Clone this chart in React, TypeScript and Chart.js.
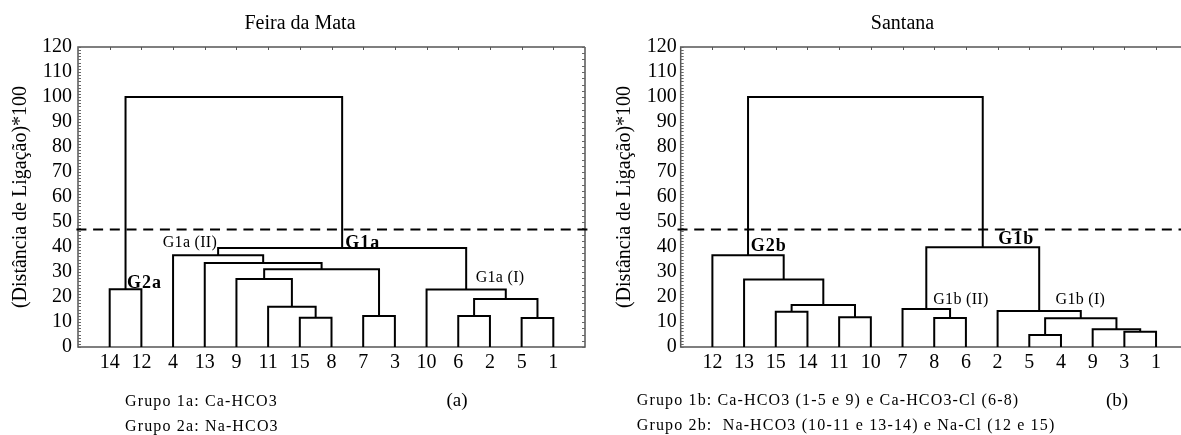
import React, { useEffect, useRef } from "react";
import { Chart, registerables } from "chart.js";

Chart.register(...registerables);

const FONT = "'Liberation Serif', 'Times New Roman', Times, serif";
Chart.defaults.font.family = FONT;
Chart.defaults.color = "#000";

// ---------- DATA ----------
// y axis
const yMin = 0;
const yMax = 120;
const yStep = 10;
const yAxisTitle = "(Distância de Ligação)*100";

// Panel (a) Feira da Mata — leaf order along x axis
const leavesA = ["14", "12", "4", "13", "9", "11", "15", "8", "7", "3", "10", "6", "2", "5", "1"];
// linkage rows: [child a, child b, linkage distance*100]; children < 15 are leaf positions, >= 15 earlier rows
const mergesA: [number, number, number][] = [
  [6, 7, 11.7],
  [5, 15, 16.1],
  [4, 16, 27.2],
  [8, 9, 12.4],
  [17, 18, 31.1],
  [3, 19, 33.6],
  [2, 20, 36.7],
  [11, 12, 12.4],
  [13, 14, 11.6],
  [22, 23, 19.2],
  [10, 24, 23.0],
  [21, 25, 39.6],
  [0, 1, 23.1],
  [27, 26, 100],
];
const cutA = 47;

// Panel (b) Santana
const leavesB = ["12", "13", "15", "14", "11", "10", "7", "8", "6", "2", "5", "4", "9", "3", "1"];
const mergesB: [number, number, number][] = [
  [2, 3, 14.1],
  [4, 5, 11.9],
  [15, 16, 16.8],
  [1, 17, 27.0],
  [0, 18, 36.7],
  [7, 8, 11.6],
  [6, 20, 15.2],
  [10, 11, 4.8],
  [13, 14, 6.1],
  [12, 23, 7.1],
  [22, 24, 11.5],
  [9, 25, 14.4],
  [21, 26, 39.9],
  [19, 27, 100],
];
const cutB = 47;

// ---------- LAYOUT / STYLE ----------
type Note = { text: string; x: number; y: number; size: number; bold?: boolean; align: CanvasTextAlign; spacing?: number };

type PanelSpec = {
  leaves: string[];
  merges: [number, number, number][];
  cut: number;
  xMax: number;
  yAxisWidth: number;
  padRight: number;
  yTickPad: number;
  yTitlePad: number;
  rightBorder: boolean;
  cutFrom: number;
  cutTo: number;
  inPlot: Note[]; // data-coordinate positions
  onCanvas: Note[]; // canvas pixel positions
};

const PLOT_TOP = 47;
const X_AXIS_H = 88;

const specA: PanelSpec = {
  leaves: leavesA,
  merges: mergesA,
  cut: cutA,
  xMax: 16,
  yAxisWidth: 78,
  padRight: 15,
  yTickPad: 6,
  yTitlePad: 9,
  rightBorder: true,
  cutFrom: -0.05,
  cutTo: 16.1,
  inPlot: [
    { text: "G2a", x: 1.55, y: 25.6, size: 18, bold: true, align: "left", spacing: 1 },
    { text: "G1a (II)", x: 4.39, y: 41.6, size: 16, align: "right", spacing: 0.3 },
    { text: "G1a", x: 8.43, y: 41.6, size: 18, bold: true, align: "left", spacing: 1 },
    { text: "G1a (I)", x: 12.55, y: 27.6, size: 16, align: "left", spacing: 0.3 },
  ],
  onCanvas: [
    { text: "Feira da Mata", x: 300, y: 24, size: 20, align: "center" },
    { text: "Grupo 1a: Ca-HCO3", x: 125, y: 402, size: 16, align: "left", spacing: 1.15 },
    { text: "Grupo 2a: Na-HCO3", x: 125, y: 427, size: 16, align: "left", spacing: 1.15 },
    { text: "(a)", x: 457, y: 401, size: 19, align: "center" },
  ],
};

const specB: PanelSpec = {
  leaves: leavesB,
  merges: mergesB,
  cut: cutB,
  xMax: (581 - 80.7) / 31.69,
  yAxisWidth: 80.7,
  padRight: 0,
  yTickPad: 4,
  yTitlePad: 13,
  rightBorder: false,
  cutFrom: -0.1,
  cutTo: (581 - 80.7) / 31.69,
  inPlot: [
    { text: "G2b", x: 2.21, y: 40.3, size: 18, bold: true, align: "left", spacing: 1 },
    { text: "G1b", x: 10.02, y: 43.0, size: 18, bold: true, align: "left", spacing: 1 },
    { text: "G1b (II)", x: 7.97, y: 18.7, size: 16, align: "left", spacing: 0.3 },
    { text: "G1b (I)", x: 11.83, y: 19.0, size: 16, align: "left", spacing: 0.3 },
  ],
  onCanvas: [
    { text: "Santana", x: 302.5, y: 24, size: 20, align: "center" },
    { text: "Grupo 1b: Ca-HCO3 (1-5 e 9) e Ca-HCO3-Cl (6-8)", x: 36.7, y: 401, size: 16, align: "left", spacing: 1.15 },
    { text: "Grupo 2b:  Na-HCO3 (10-11 e 13-14) e Na-Cl (12 e 15)", x: 36.7, y: 426, size: 16, align: "left", spacing: 1.15 },
    { text: "(b)", x: 517, y: 401, size: 19, align: "center" },
  ],
};

// ---------- HELPERS ----------
function buildSegments(leaves: string[], merges: [number, number, number][]) {
  const xs = leaves.map((_, i) => i + 1);
  const hs = leaves.map(() => 0);
  const segs: { x: number; y: number }[][] = [];
  merges.forEach(([a, b, h]) => {
    const xa = xs[a];
    const xb = xs[b];
    const lo = xa <= xb ? [xa, hs[a], xb, hs[b]] : [xb, hs[b], xa, hs[a]];
    segs.push([
      { x: lo[0], y: lo[1] },
      { x: lo[0], y: h },
      { x: lo[2], y: h },
      { x: lo[2], y: lo[3] },
    ]);
    xs.push((xa + xb) / 2);
    hs.push(h);
  });
  return segs;
}

function drawNote(ctx: CanvasRenderingContext2D, n: Note, px: number, py: number) {
  ctx.save();
  ctx.font = `${n.bold ? "bold " : ""}${n.size}px ${FONT}`;
  ctx.fillStyle = "#000";
  ctx.textAlign = n.align;
  ctx.textBaseline = "middle";
  (ctx as any).letterSpacing = `${n.spacing ?? 0}px`;
  ctx.fillText(n.text, px, py);
  ctx.restore();
}

function framePlugin(p: PanelSpec) {
  return {
    id: "frame",
    beforeDatasetsDraw(chart: any) {
      const { ctx, chartArea } = chart;
      const { left, right, top, bottom } = chartArea;
      const xs = chart.scales.x;
      const ys = chart.scales.y;
      ctx.save();
      ctx.strokeStyle = "#555";
      ctx.lineWidth = 1.5;
      ctx.beginPath();
      ctx.moveTo(right, top);
      ctx.lineTo(left, top);
      ctx.lineTo(left, bottom);
      ctx.lineTo(right, bottom);
      if (p.rightBorder) ctx.lineTo(right, top);
      ctx.stroke();
      // top ticks at leaf positions
      ctx.lineWidth = 1;
      ctx.beginPath();
      p.leaves.forEach((_, i) => {
        const px = Math.round(xs.getPixelForValue(i + 1)) + 0.5;
        ctx.moveTo(px, top);
        ctx.lineTo(px, top + 3);
      });
      ctx.stroke();
      // minor ticks on the left axis
      ctx.strokeStyle = "#666";
      ctx.beginPath();
      for (let v = yMin; v <= yMax; v += 1.25) {
        const py = Math.round(ys.getPixelForValue(v)) + 0.5;
        ctx.moveTo(left, py);
        ctx.lineTo(left + 3, py);
      }
      if (p.rightBorder) {
        for (let v = yMin; v <= yMax; v += 2.5) {
          const py = Math.round(ys.getPixelForValue(v)) + 0.5;
          ctx.moveTo(right, py);
          ctx.lineTo(right - 3, py);
        }
      }
      ctx.stroke();
      ctx.restore();
    },
    afterDraw(chart: any) {
      const { ctx } = chart;
      const xs = chart.scales.x;
      const ys = chart.scales.y;
      p.inPlot.forEach((n) => drawNote(ctx, n, xs.getPixelForValue(n.x), ys.getPixelForValue(n.y)));
      p.onCanvas.forEach((n) => drawNote(ctx, n, n.x, n.y));
    },
  };
}

function buildConfig(p: PanelSpec): any {
  const segs = buildSegments(p.leaves, p.merges);
  const datasets: any[] = segs.map((seg) => ({
    data: seg,
    borderColor: "#000",
    borderWidth: 2,
    pointRadius: 0,
    fill: false,
    tension: 0,
    borderJoinStyle: "miter",
    clip: false,
  }));
  datasets.push({
    data: [
      { x: p.cutFrom, y: p.cut },
      { x: p.cutTo, y: p.cut },
    ],
    borderColor: "#000",
    borderWidth: 2,
    borderDash: [10, 6.7],
    pointRadius: 0,
    fill: false,
    clip: false,
  });
  return {
    type: "line",
    data: { datasets },
    options: {
      responsive: false,
      animation: false,
      events: [],
      layout: { padding: { left: 0, top: PLOT_TOP, right: p.padRight, bottom: 0 } },
      plugins: { legend: { display: false }, tooltip: { enabled: false }, title: { display: false } },
      scales: {
        x: {
          type: "linear",
          min: 0,
          max: p.xMax,
          grid: { display: false, drawTicks: false },
          border: { display: false },
          afterBuildTicks: (axis: any) => {
            axis.ticks = p.leaves.map((_, i) => ({ value: i + 1 }));
          },
          ticks: {
            autoSkip: false,
            maxRotation: 0,
            padding: 4,
            color: "#000",
            font: { size: 20, family: FONT },
            callback: (v: any) => p.leaves[Math.round(Number(v)) - 1] ?? "",
          },
          afterFit: (axis: any) => {
            axis.height = X_AXIS_H;
          },
        },
        y: {
          type: "linear",
          min: yMin,
          max: yMax,
          grid: { display: false, drawTicks: false },
          border: { display: false },
          ticks: {
            stepSize: yStep,
            autoSkip: false,
            padding: p.yTickPad,
            color: "#000",
            font: { size: 20, family: FONT },
          },
          title: {
            display: true,
            text: yAxisTitle,
            color: "#000",
            font: { size: 20, family: FONT },
            padding: { top: p.yTitlePad, bottom: 0 },
          },
          afterFit: (axis: any) => {
            axis.width = p.yAxisWidth;
          },
        },
      },
    },
    plugins: [framePlugin(p)],
  };
}

function Panel({ spec, left, width }: { spec: PanelSpec; left: number; width: number }) {
  const ref = useRef<HTMLCanvasElement>(null);
  useEffect(() => {
    const chart = new Chart(ref.current as HTMLCanvasElement, buildConfig(spec));
    return () => chart.destroy();
  }, [spec]);
  return (
    <canvas
      ref={ref}
      width={width}
      height={435}
      style={{ position: "absolute", left, top: 0, width, height: 435, display: "block" }}
    />
  );
}

export default function App() {
  return (
    <div
      style={{
        position: "fixed",
        left: 0,
        top: 0,
        width: 1181,
        height: 435,
        overflow: "hidden",
        background: "#fff",
      }}
    >
      <Panel spec={specA} left={0} width={600} />
      <Panel spec={specB} left={600} width={581} />
    </div>
  );
}
